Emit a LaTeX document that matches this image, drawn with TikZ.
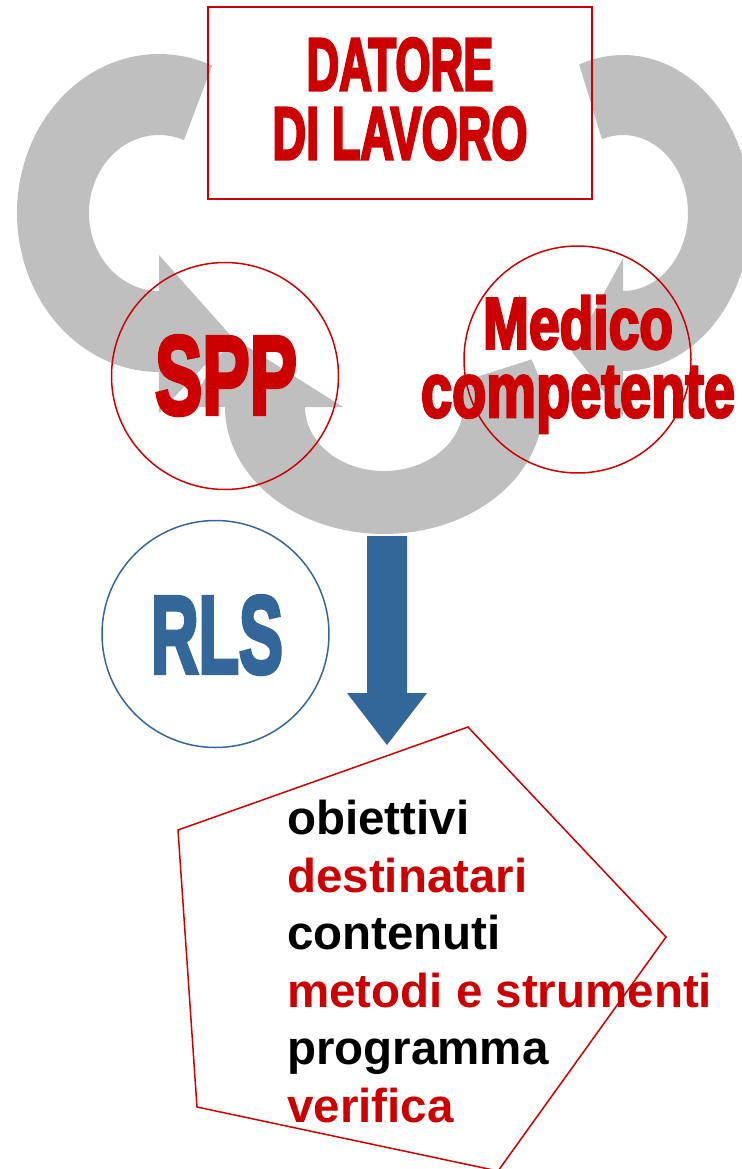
\documentclass[tikz,border=0pt]{standalone}
\usepackage{fontspec}
\setmainfont{Liberation Sans}
\font\heavyfont="Liberation Sans Bold:embolden=4" at 40pt
\newfontface\listfont{Liberation Sans Bold}
\definecolor{lred}{HTML}{CC0000}
\definecolor{lgray}{HTML}{BFBFBF}
\definecolor{lblue}{HTML}{336699}
\tikzset{
  redring/.style={circle, draw=lred, line width=1.5pt, minimum size=227pt, inner sep=0pt},
  bluering/.style={circle, draw=lblue, line width=1.5pt, minimum size=227pt, inner sep=0pt},
  bigred/.style={text=lred, inner sep=0pt, align=center},
  grayarrow/.style={fill=lgray},
}
\begin{document}
\begin{tikzpicture}[x=1pt,y=-1pt]
\useasboundingbox (0,0) rectangle (741,1169);
% left circular arrow
\fill[grayarrow] plot[domain=0:1,samples=90] ({159+142*cos(-68-202*\x)},{213+159*sin(-68-202*\x)})
  -- (159,413) -- (232,337) -- (159,255)
  -- plot[domain=0:1,samples=90] ({159+70*cos(-270+201*\x)},{213+78*sin(-270+201*\x)}) -- cycle;
% right circular arrow
\fill[grayarrow] plot[domain=0:1,samples=90] ({623+128*cos(250+200*\x)},{213+158*sin(250+200*\x)})
  -- (623,416) -- (572,352) -- (623,258)
  -- plot[domain=0:1,samples=90] ({623+65*cos(450-199*\x)},{213+78*sin(450-199*\x)}) -- cycle;
% bottom circular arrow
\fill[grayarrow] plot[domain=0:1,samples=90] ({384+159*cos(-22+202*\x)},{407+127*sin(-22+202*\x)})
  -- (187,407) -- (232,337) -- (343,407)
  -- plot[domain=0:1,samples=90] ({384+79*cos(180-202*\x)},{407+64*sin(180-202*\x)}) -- cycle;
% employer box
\node[draw=lred, line width=2pt, minimum width=384pt, minimum height=192pt, inner sep=0pt] (box) at (400,103) {};
\node[bigred, anchor=north, font={\fontsize{10}{69}\selectfont\heavyfont}] (datore) at (400,38)
  {\resizebox{187pt}{52pt}{DATORE}\\\resizebox{255pt}{52pt}{DI LAVORO}};
% circles
\node[redring] (sppc) at (225,376) {};
\node[redring] (medc) at (577.5,359.5) {};
\node[bluering] (rlsc) at (215.5,634) {};
\node[bigred, anchor=base, font=\heavyfont] (spp) at (226,414) {\resizebox{142pt}{78pt}{SPP}};
\node[bigred, anchor=north, font={\fontsize{10}{68.4}\selectfont\heavyfont}] (medico) at (578,295.7)
  {\resizebox{190pt}{52.6pt}{Medico}\\\resizebox{314pt}{50pt}{competente}};
\node[text=lblue, inner sep=0pt, anchor=base, font=\heavyfont] (rls) at (217,673) {\resizebox{132pt}{77pt}{RLS}};
% blue arrow
\fill[lblue] (367,536) -- (407,536) -- (407,693) -- (427,693) -- (387,745) -- (347,693) -- (367,693) -- cycle;
% pentagon
\coordinate (p1) at (468,727);
\coordinate (p2) at (666,937);
\coordinate (p3) at (498,1171);
\coordinate (p4) at (197,1107);
\coordinate (p5) at (178,830);
\draw[lred, line width=1.5pt, line join=miter] (p1) -- (p2) -- (p3) -- (p4) -- (p5) -- cycle;
\node[anchor=north west, inner sep=0pt, align=left, font={\listfont\fontsize{47.5}{57.5}\selectfont}] (list) at (287,800)
  {obiettivi\\\textcolor{lred}{destinatari}\\contenuti\\\textcolor{lred}{metodi e strumenti}\\programma\\\textcolor{lred}{verifica}};
\end{tikzpicture}
\end{document}
